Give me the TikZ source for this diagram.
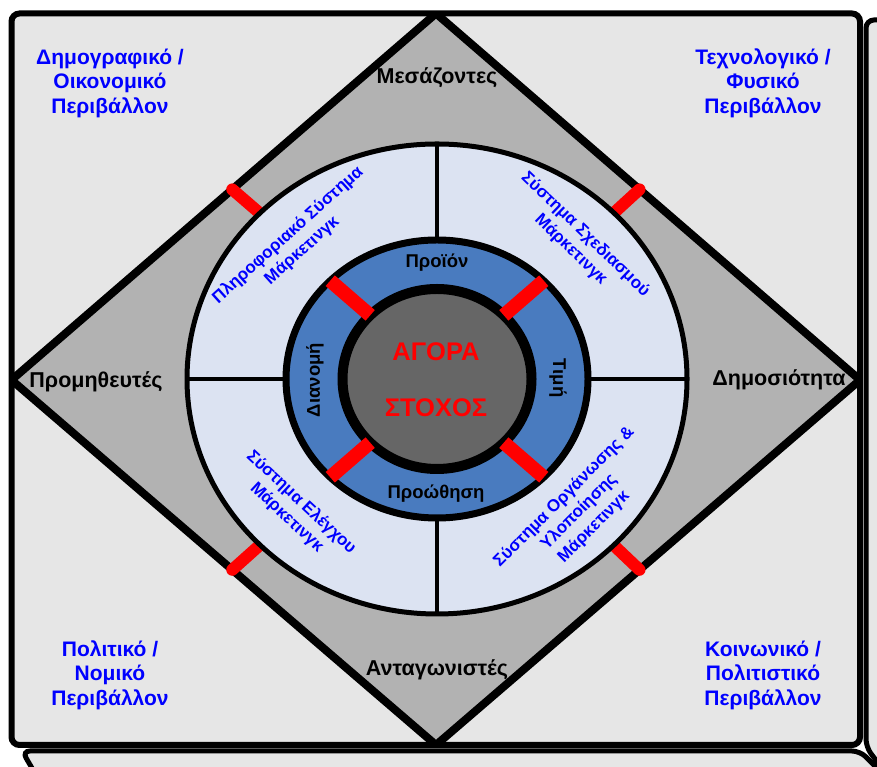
\documentclass[tikz,border=0pt]{standalone}
\usepackage{fontspec}
\setmainfont{Liberation Sans}
\usetikzlibrary{calc}
\definecolor{panel}{RGB}{230,230,230}
\definecolor{rhomb}{RGB}{178,178,178}
\definecolor{ringpale}{RGB}{220,227,242}
\definecolor{ringblue}{RGB}{73,123,191}
\definecolor{core}{RGB}{102,102,102}
\begin{document}
\begin{tikzpicture}[x=1pt,y=1pt,
  envtext/.style={font=\bfseries\fontsize{21}{24.5}\selectfont, text=blue, align=center, inner sep=0},
  forcetext/.style={font=\bfseries\fontsize{21.5}{24}\selectfont, text=black, inner sep=0},
  mixtext/.style={font=\bfseries\fontsize{18.5}{21}\selectfont, text=black, inner sep=0},
  systext/.style={font=\bfseries\fontsize{17}{21}\selectfont, text=blue, align=center, inner sep=0},
  coretext/.style={font=\bfseries\fontsize{25.5}{30}\selectfont, text=red, inner sep=0},
  outerbar/.style={red, line width=12pt, line cap=round},
  innerbar/.style={red, line width=14pt},
  card/.style={fill=panel, draw=black, line width=5pt, rounded corners=8pt},
  divider/.style={line width=4pt}
]
\useasboundingbox (0,0) rectangle (877,767);

% stacked cards behind the main panel
\draw[card] (884,-4) -- (866,20) -- (866,747) -- (910,747);
\draw[card] (36,-8) -- (22,16) -- (860,16) -- (884,-8);

% main panel
\fill[panel, rounded corners=8pt] (11.5,22) rectangle (860,753.5);

% market forces rhombus
\coordinate (T) at (436,753.5);
\coordinate (B) at (436,22);
\coordinate (L) at (11.5,387);
\coordinate (R) at (860,387);
\coordinate (C) at (437,388);
\begin{scope}
  \clip (11.5,22) rectangle (860,753.5);
  \draw[fill=rhomb, line width=8pt, line join=round] (T) -- (R) -- (B) -- (L) -- cycle;
\end{scope}

% red links between the systems ring and the forces
\draw[outerbar] ($(C)+(135:235pt and 221pt)$) -- ($(L)!0.52!(T)$);
\draw[outerbar] ($(C)+(45:235pt and 221pt)$) -- ($(R)!0.52!(T)$);
\draw[outerbar] ($(C)+(225:235pt and 221pt)$) -- ($(L)!0.52!(B)$);
\draw[outerbar] ($(C)+(-45:235pt and 221pt)$) -- ($(R)!0.52!(B)$);

% marketing systems ring
\draw[fill=ringpale, line width=5pt] (C) ellipse [x radius=250pt, y radius=235pt];
\draw[divider] ($(C)+(0,139)$) -- ($(C)+(0,235)$);
\draw[divider] ($(C)+(0,-139)$) -- ($(C)+(0,-235)$);
\draw[divider] ($(C)+(-151,0)$) -- ($(C)+(-250,0)$);
\draw[divider] ($(C)+(151,0)$) -- ($(C)+(250,0)$);

% marketing mix ring and target market core
\draw[fill=ringblue, line width=7pt] (C) ellipse [x radius=151pt, y radius=139pt];
\draw[fill=core, line width=10pt] (C) ellipse [x radius=94.5pt, y radius=90pt];
\foreach \a in {45,135,225,315}
  \draw[innerbar] ($(C)+(\a:151pt and 139pt)$) -- ($(C)+(\a:94.5pt and 90pt)$);

% panel border on top
\draw[line width=6pt, rounded corners=8pt] (11.5,22) rectangle (860,753.5);

% environment labels
\node[envtext] (demo) at (110,684) {Δημογραφικό /\\Οικονομικό\\Περιβάλλον};
\node[envtext] (tech) at (763,684) {Τεχνολογικό /\\Φυσικό\\Περιβάλλον};
\node[envtext] (pol)  at (110,92)  {Πολιτικό /\\Νομικό\\Περιβάλλον};
\node[envtext] (soc)  at (763,92)  {Κοινωνικό /\\Πολιτιστικό\\Περιβάλλον};

% forces
\node[forcetext] (mid)  at (437,689) {Μεσάζοντες};
\node[forcetext] (comp) at (437,97)  {Ανταγωνιστές};
\node[forcetext] (sup)  at (96,385)  {Προμηθευτές};
\node[forcetext] (pub)  at (779,387) {Δημοσιότητα};

% marketing systems
\node[systext, rotate=42]  (info) at (295,524) {Πληροφοριακό Σύστημα\\Μάρκετινγκ};
\node[systext, rotate=-44] (plan) at (578,525) {Σύστημα Σχεδιασμού\\Μάρκετινγκ};
\node[systext, rotate=-43] (ctrl) at (294,257) {Σύστημα Ελέγχου\\Μάρκετινγκ};
\node[systext, rotate=45]  (org)  at (579,255) {Σύστημα Οργάνωσης \&\\Υλοποίησης\\Μάρκετινγκ};

% marketing mix
\node[mixtext] (prod)  at (437,504) {Προϊόν};
\node[mixtext] (promo) at (436,273) {Προώθηση};
\node[mixtext, rotate=90]  (dist)  at (315,387) {Διανομή};
\node[mixtext, rotate=-90] (price) at (558,389) {Τιμή};

% target market
\node[coretext] (m1) at (436,415) {ΑΓΟΡΑ};
\node[coretext] (m2) at (436,359) {ΣΤΟΧΟΣ};
\end{tikzpicture}
\end{document}
